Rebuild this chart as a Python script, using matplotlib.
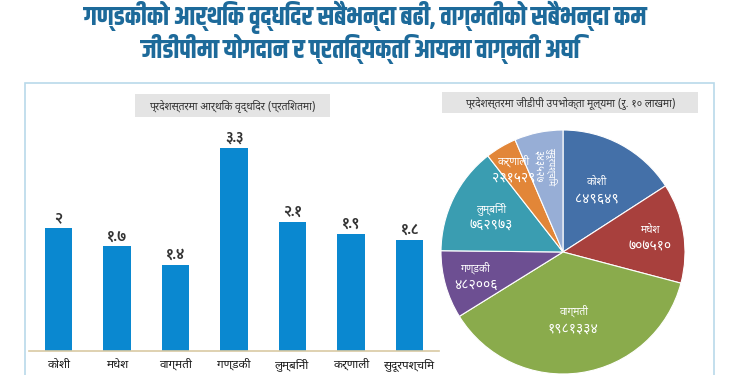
import matplotlib
matplotlib.use("Agg")
import matplotlib.pyplot as plt
from matplotlib import font_manager as fm
from matplotlib.patches import Rectangle
import numpy as np

# --- data ---
provinces = ["कोशी", "मधेश", "वाग्मती", "गण्डकी", "लुम्बिनी", "कर्णाली", "सुदूरपश्चिम"]
growth = [2.0, 1.7, 1.4, 3.3, 2.1, 1.9, 1.8]
gdp = [849649, 707510, 1981334, 482006, 762973, 221529, 343527]

title_1 = "गण्डकीको आर्थिक वृद्धिदर सबैभन्दा बढी, वाग्मतीको सबैभन्दा कम"
title_2 = "जीडीपीमा योगदान र प्रतिव्यक्ति आयमा वाग्मती अघि"
bar_title = "प्रदेशस्तरमा आर्थिक वृद्धिदर (प्रतिशतमा)"
pie_title = "प्रदेशस्तरमा जीडीपी उपभोक्ता मूल्यमा (रु. १० लाखमा)"

W, H, DPI = 750, 375, 100
BLUE = "#0a88d0"
TITLE_C = "#1d6a9a"
PIE_COLORS = ["#4470a8", "#a8403d", "#8aab4c", "#6d4f92", "#3a9db1", "#e28638", "#97aed6"]

avail = {f.name for f in fm.fontManager.ttflist}


def pick(*names):
    for n in names:
        if n in avail:
            return [n, "DejaVu Sans"]
    return ["DejaVu Sans"]


HEAD = pick("Khand", "Teko", "Rajdhani", "Yantramanav", "Mukta", "Noto Sans Devanagari")
BODY = pick("Noto Sans Devanagari", "Mukta", "Hind", "Poppins")
NUMS = pick("Mukta", "Hind", "Noto Sans Devanagari")

DEV = str.maketrans("0123456789", "०१२३४५६७८९")


def dev(v):
    s = f"{v:g}" if isinstance(v, float) else str(v)
    return s.translate(DEV)


fig = plt.figure(figsize=(W / DPI, H / DPI), dpi=DPI)

# --- headline ---
fig.text(0.487, 1 - 17.5 / H, title_1, ha="center", va="center", color=TITLE_C,
         fontsize=18.5, fontweight="bold", family=HEAD)
fig.text(0.48, 1 - 48.5 / H, title_2, ha="center", va="center", color=TITLE_C,
         fontsize=18.5, fontweight="bold", family=HEAD)

# outer frame
fig.add_artist(Rectangle((25 / W, -0.02), 689 / W, (375 - 83) / H + 0.02,
                         transform=fig.transFigure, fill=False,
                         edgecolor="#b9d9ea", lw=1.2))

# --- bar chart ---
ax = fig.add_axes([29.25 / W, 24.3 / H, 409.5 / W, 246 / H])
x = range(len(provinces))
bars = ax.bar(x, growth, width=0.47, color=BLUE, zorder=2)
ax.set_xlim(-0.5, 6.5)
ax.set_ylim(0, 4)
for b, v in zip(bars, growth):
    ax.annotate(dev(v), (b.get_x() + b.get_width() / 2, v), xytext=(0, 2),
                textcoords="offset points", ha="center", va="bottom",
                fontsize=10.5, fontweight="bold", color="#333333", family=NUMS)
ax.set_xticks(list(x))
ax.set_xticklabels(provinces, fontsize=8.5, color="#1a1a1a", family=BODY)
ax.tick_params(axis="x", length=0, pad=5)
ax.set_yticks([])
for s in ("left", "right", "top"):
    ax.spines[s].set_visible(False)
ax.spines["bottom"].set_color("#d9c9a3")
ax.spines["bottom"].set_linewidth(1.2)
ax.patch.set_alpha(0)

# bar subtitle box
fig.add_artist(Rectangle((135 / W, 1 - 117 / H), 195 / W, 23 / H,
                         transform=fig.transFigure, facecolor="#e4e4e4",
                         edgecolor="none"))
fig.text(232 / W, 1 - 105.5 / H, bar_title, ha="center", va="center",
         fontsize=7.5, color="#333333", family=BODY)

# --- pie chart ---
R = 122
pax = fig.add_axes([(563 - R) / W, (123 - R) / H, 2 * R / W, 2 * R / H])
wedges, _ = pax.pie(gdp, colors=PIE_COLORS, startangle=90, counterclock=False,
                    radius=1, wedgeprops=dict(edgecolor="white", linewidth=0.8))
pax.set_xlim(-1, 1)
pax.set_ylim(-1, 1)
pax.set_aspect("equal")
pax.axis("off")

dist = [0.58, 0.72, 0.56, 0.74, 0.66, 0.79, 0.72]
for w, name, v, d in zip(wedges, provinces, gdp, dist):
    ang = np.deg2rad((w.theta1 + w.theta2) / 2)
    cx, cy = d * np.cos(ang), d * np.sin(ang)
    if name == "सुदूरपश्चिम":
        pax.text(cx + 0.055, cy, name, rotation=-90, ha="center", va="center",
                 fontsize=6.3, color="white", family=BODY)
        pax.text(cx - 0.055, cy, dev(v), rotation=-90, ha="center", va="center",
                 fontsize=7.5, color="white", family=BODY)
    else:
        pax.text(cx, cy + 0.065, name, ha="center", va="center",
                 fontsize=7.5, color="white", family=BODY)
        pax.text(cx, cy - 0.075, dev(v), ha="center", va="center",
                 fontsize=10, color="white", family=BODY)

# pie subtitle box
fig.add_artist(Rectangle((442 / W, 1 - 113 / H), 256 / W, 21 / H,
                         transform=fig.transFigure, facecolor="#e4e4e4",
                         edgecolor="none"))
fig.text(570 / W, 1 - 102.5 / H, pie_title, ha="center", va="center",
         fontsize=7.5, color="#333333", family=BODY)

fig.savefig("out.png", dpi=DPI)
